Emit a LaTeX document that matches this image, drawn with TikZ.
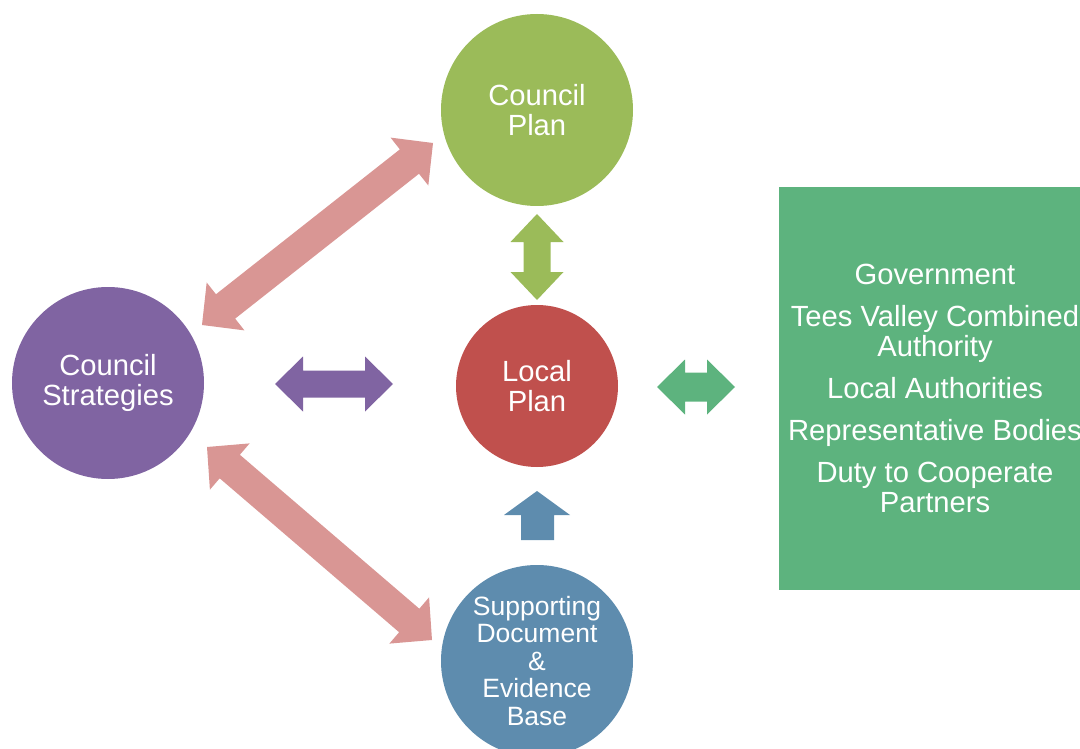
\documentclass[tikz,border=0pt]{standalone}
\usepackage{fontspec}
\setmainfont{Liberation Sans}
\usetikzlibrary{calc}
\definecolor{cpgreen}{HTML}{9BBB59}
\definecolor{cspurple}{HTML}{8064A2}
\definecolor{lpred}{HTML}{C0504D}
\definecolor{sdblue}{HTML}{5E8CAE}
\definecolor{pinkarr}{HTML}{D99694}
\definecolor{boxgreen}{HTML}{5DB37E}
\newcommand\dblarrow[6]{% start, end, shaft half, head half, head length, colour
  \coordinate (da) at ($(#1)!#5!(#2)$);
  \coordinate (db) at ($(#2)!#5!(#1)$);
  \fill[#6] (#1) -- ($(da)!#4!90:(#2)$) -- ($(da)!#3!90:(#2)$)
    -- ($(db)!#3!-90:(#1)$) -- ($(db)!#4!-90:(#1)$) -- (#2)
    -- ($(db)!#4!90:(#1)$) -- ($(db)!#3!90:(#1)$)
    -- ($(da)!#3!-90:(#2)$) -- ($(da)!#4!-90:(#2)$) -- cycle;}
\tikzset{
  circ/.style={circle, inner sep=0pt, text=white, align=center,
    font=\fontsize{29.2}{30}\selectfont},
}
\begin{document}
\begin{tikzpicture}[x=1pt, y=-1pt]
\useasboundingbox (0,0) rectangle (1080,749);
\clip (0,0) rectangle (1080,749);
% circles
\node[circ, fill=cpgreen, minimum size=192pt] (cp) at (537,110) {Council\\Plan};
\node[circ, fill=cspurple, minimum size=192pt] (cs) at (108,383) {Council\\Strategies};
\node[circ, fill=lpred, minimum size=162pt] (lp) at (537,386) {Local\\Plan};
\node[circ, fill=sdblue, minimum size=192pt, font=\fontsize{26.5}{27.5}\selectfont] (sd) at (537,661) {Supporting\\Document\\\&\\Evidence\\Base};
% green box
\fill[boxgreen] (779,187) rectangle (1092,590);
\node[text=white, align=center, font=\fontsize{29.2}{30}\selectfont] (gov) at (935,388)
  {Government\\[12pt]Tees Valley Combined\\Authority\\[12pt]Local Authorities\\[12pt]Representative Bodies\\[12pt]Duty to Cooperate\\Partners};
% arrow end points
\coordinate (p1a) at (202,325); \coordinate (p1b) at (433,143);
\coordinate (p2a) at (207,447); \coordinate (p2b) at (432,640);
\coordinate (pua) at (275,384); \coordinate (pub) at (393,384);
\coordinate (gva) at (537,214); \coordinate (gvb) at (537,300);
\coordinate (gha) at (657,387); \coordinate (ghb) at (735,387);
\dblarrow{p1a}{p1b}{15.5pt}{30.5pt}{30pt}{pinkarr}
\dblarrow{p2a}{p2b}{15.5pt}{30.5pt}{30pt}{pinkarr}
\dblarrow{pua}{pub}{13.5pt}{27.5pt}{28pt}{cspurple}
\dblarrow{gva}{gvb}{13.5pt}{26.5pt}{28pt}{cpgreen}
\dblarrow{gha}{ghb}{14.5pt}{27.5pt}{28pt}{boxgreen}
% single up arrow
\fill[sdblue] (537,491) -- (570,515) -- (554,515) -- (554,540) -- (521,540) -- (521,515) -- (504,515) -- cycle;
\end{tikzpicture}
\end{document}
